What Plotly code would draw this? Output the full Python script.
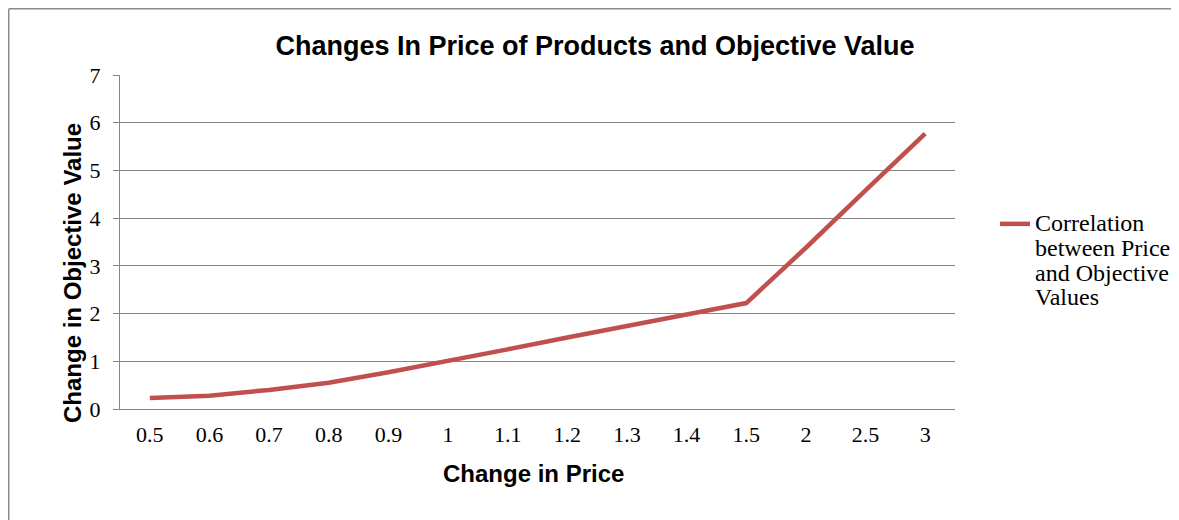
import plotly.graph_objects as go

categories = ["0.5", "0.6", "0.7", "0.8", "0.9", "1", "1.1", "1.2", "1.3", "1.4", "1.5", "2", "2.5", "3"]
objective_values = [0.23, 0.28, 0.40, 0.55, 0.77, 1.00, 1.25, 1.50, 1.75, 1.98, 2.22, 3.38, 4.58, 5.77]
legend_lines = ["Correlation", "between Price", "and Objective", "Values"]
y_ticks = [0, 1, 2, 3, 4, 5, 6, 7]

SANS = "Arial, Liberation Sans, sans-serif"
SERIF = "Times New Roman, Liberation Serif, serif"
GRID = "#868686"

# page body has an 8px margin, so work in figure coordinates = page - 8
OFF = 8
W, H = 1179 - OFF, 520 - OFF
L, R, T, B = 120 - OFF, 955 - OFF, 75 - OFF, 409 - OFF


def px(xp):
    return (xp - OFF - L) / (R - L)


def py(yp):
    return (B - (yp - OFF)) / (B - T)


series_name = "<br>".join(f'<span style="font-size:24px">{s}</span>' for s in legend_lines)

fig = go.Figure()
fig.add_trace(go.Scatter(
    x=categories, y=objective_values, mode="lines", name=series_name,
    line=dict(color="#C0504D", width=4.5),
))

fig.update_layout(
    width=W, height=H,
    margin=dict(l=L, r=W - R, t=T, b=H - B, autoexpand=False),
    paper_bgcolor="white", plot_bgcolor="white",
    title=dict(text="<b>Changes In Price of Products and Objective Value</b>",
               x=(595 - OFF) / W, xref="container", xanchor="center",
               y=1 - (46 - OFF) / H, yref="container", yanchor="middle",
               font=dict(family=SANS, size=27, color="black")),
    showlegend=True,
    legend=dict(x=px(995), xanchor="left",
                y=py(205), yanchor="top",
                valign="top", bgcolor="rgba(0,0,0,0)",
                font=dict(family=SERIF, size=19, color="black")),
    xaxis=dict(type="category", categoryorder="array", categoryarray=categories,
               showgrid=False, showline=True, linecolor=GRID, linewidth=1,
               ticks="", ticklabelstandoff=6,
               tickfont=dict(family=SERIF, size=22, color="black"),
               range=[-0.5, len(categories) - 0.5], zeroline=False),
    yaxis=dict(range=[0, 7], tickvals=y_ticks, showgrid=True, gridcolor=GRID, gridwidth=1,
               showline=True, linecolor=GRID, linewidth=1,
               ticks="outside", ticklen=6, tickcolor=GRID, ticklabelstandoff=8,
               tickfont=dict(family=SERIF, size=22, color="black"), zeroline=False),
    annotations=[
        dict(text="<b>Change in Price</b>", xref="paper", yref="paper",
             x=px(533), y=py(473), xanchor="center", yanchor="middle",
             showarrow=False, font=dict(family=SANS, size=24, color="black")),
        dict(text="<b>Change in Objective Value</b>", xref="paper", yref="paper",
             x=px(72), y=py(273), xanchor="center", yanchor="middle",
             textangle=-90, showarrow=False, font=dict(family=SANS, size=24, color="black")),
    ],
    shapes=[
        dict(type="line", xref="paper", yref="paper",
             x0=px(8.75), x1=px(1200), y0=py(8.75), y1=py(8.75),
             line=dict(color="#8C8C8C", width=1.5)),
        dict(type="line", xref="paper", yref="paper",
             x0=px(8.75), x1=px(8.75), y0=py(8.75), y1=py(560),
             line=dict(color="#8C8C8C", width=1.5)),
    ],
)

fig.write_html("out.html")
